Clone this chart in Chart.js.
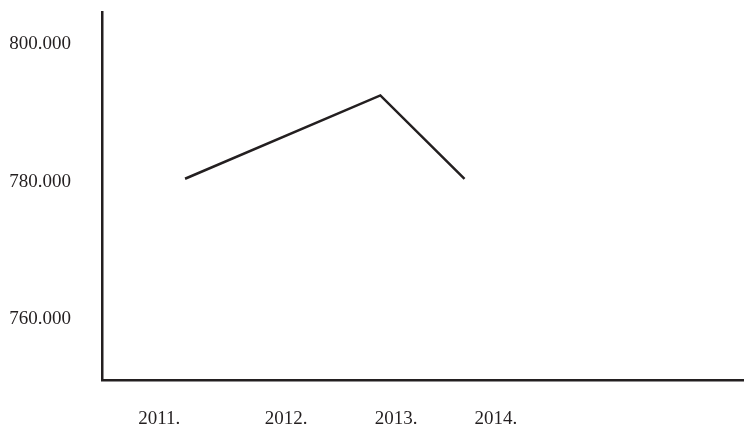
<!DOCTYPE html>
<html>
<head>
<meta charset="utf-8">
<script src="https://cdn.jsdelivr.net/npm/chart.js@4"></script>
<style>
  html, body { margin: 0; padding: 0; background: #fff; }
  #wrap { width: 744px; height: 427px; }
</style>
</head>
<body>
<div id="wrap"><canvas id="grafico"></canvas></div>
<script>
// year positions on the x axis (labels are not evenly spaced in the original)
const tickLabels = ['2011.', '2012.', '2013.', '2014.'];
const tickPos = [2011, 2012.13, 2013.11, 2014];
const yTicks = [760000, 780000, 800000];

// line points
const pointX = [2011.23, 2012.97, 2013.72];
const pointY = [780400, 792500, 780400];

const ink = '#231f20';
const fmt = v => String(v).replace(/\B(?=(\d{3})+(?!\d))/g, '.');

const ctx = document.getElementById('grafico').getContext('2d');
new Chart(ctx, {
  type: 'line',
  data: {
    datasets: [{
      data: pointX.map((x, i) => ({ x: x, y: pointY[i] })),
      borderColor: ink,
      borderWidth: 2.5,
      pointRadius: 0,
      tension: 0,
      fill: false
    }]
  },
  options: {
    responsive: true,
    maintainAspectRatio: false,
    animation: false,
    layout: { padding: { top: 12, right: 0, left: 0, bottom: 0 } },
    plugins: { legend: { display: false }, tooltip: { enabled: false } },
    scales: {
      x: {
        type: 'linear',
        min: 2010.49,
        max: 2016.21,
        grid: { display: false, drawTicks: false },
        border: { display: true, color: ink, width: 2.5 },
        afterBuildTicks: s => { s.ticks = tickPos.map(v => ({ value: v })); },
        afterFit: s => { s.height = 47; s.paddingLeft = 0; s.paddingRight = 0; },
        ticks: {
          autoSkip: false,
          maxRotation: 0,
          padding: 28,
          color: ink,
          font: { family: 'Liberation Serif', size: 19 },
          callback: (v, i) => tickLabels[i]
        }
      },
      y: {
        min: 751200,
        max: 804600,
        grid: { display: false, drawTicks: false },
        border: { display: true, color: ink, width: 2.5 },
        afterBuildTicks: s => { s.ticks = yTicks.map(v => ({ value: v })); },
        afterFit: s => { s.width = 102; s.paddingTop = 0; s.paddingBottom = 0; },
        ticks: {
          padding: 31,
          color: ink,
          font: { family: 'Liberation Serif', size: 19 },
          callback: v => fmt(v)
        }
      }
    }
  }
});
</script>
</body>
</html>
